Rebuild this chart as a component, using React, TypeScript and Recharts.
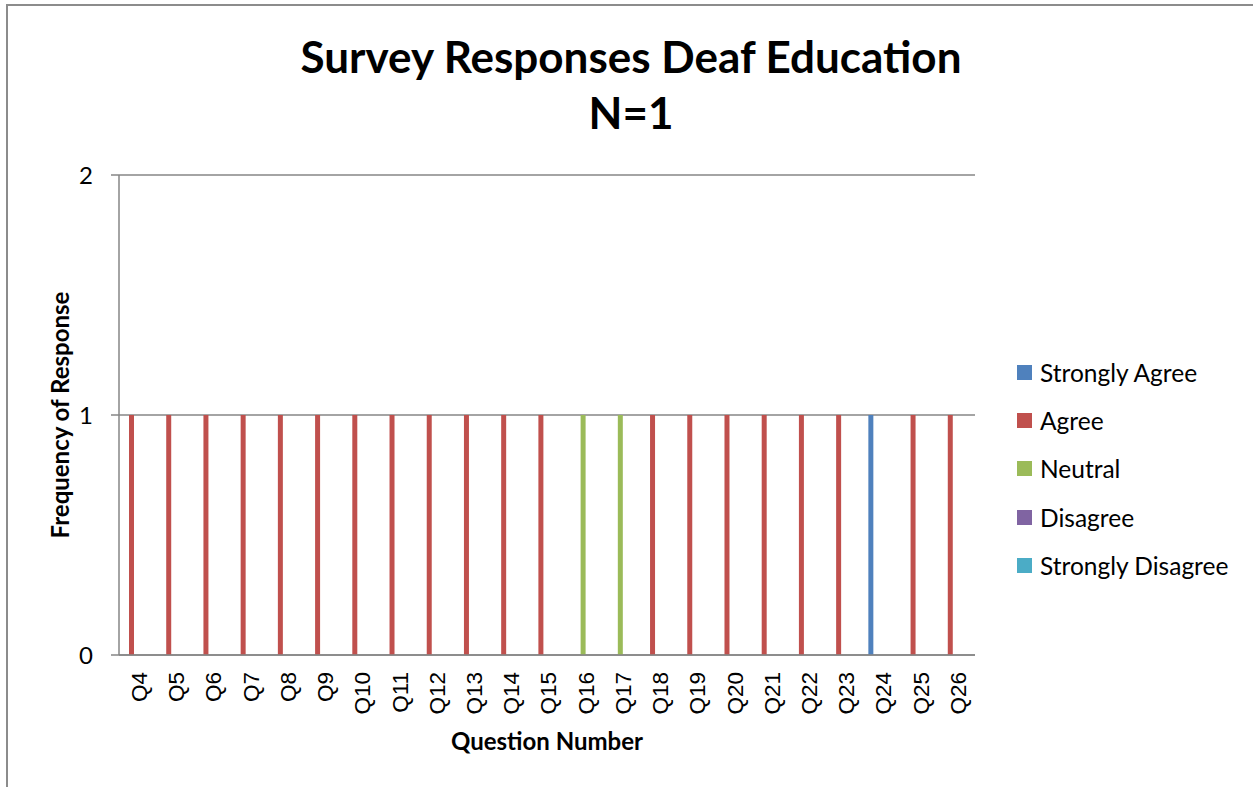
import React from "react";
import { BarChart, Bar, XAxis, YAxis, CartesianGrid } from "recharts";

// Survey responses per question (N=1)
const questions = [
  "Q4", "Q5", "Q6", "Q7", "Q8", "Q9", "Q10", "Q11", "Q12", "Q13", "Q14", "Q15",
  "Q16", "Q17", "Q18", "Q19", "Q20", "Q21", "Q22", "Q23", "Q24", "Q25", "Q26",
];
const stronglyAgree = [0, 0, 0, 0, 0, 0, 0, 0, 0, 0, 0, 0, 0, 0, 0, 0, 0, 0, 0, 0, 1, 0, 0];
const agree = [1, 1, 1, 1, 1, 1, 1, 1, 1, 1, 1, 1, 0, 0, 1, 1, 1, 1, 1, 1, 0, 1, 1];
const neutral = [0, 0, 0, 0, 0, 0, 0, 0, 0, 0, 0, 0, 1, 1, 0, 0, 0, 0, 0, 0, 0, 0, 0];
const disagree = [0, 0, 0, 0, 0, 0, 0, 0, 0, 0, 0, 0, 0, 0, 0, 0, 0, 0, 0, 0, 0, 0, 0];
const stronglyDisagree = [0, 0, 0, 0, 0, 0, 0, 0, 0, 0, 0, 0, 0, 0, 0, 0, 0, 0, 0, 0, 0, 0, 0];
const yTicks = [0, 1, 2];

const series = [
  { key: "sa", name: "Strongly Agree", color: "#4F81BD" },
  { key: "a", name: "Agree", color: "#C0504D" },
  { key: "n", name: "Neutral", color: "#9BBB59" },
  { key: "d", name: "Disagree", color: "#8064A2" },
  { key: "sd", name: "Strongly Disagree", color: "#4BACC6" },
];

const data = questions.map((q, i) => ({
  q,
  sa: stronglyAgree[i],
  a: agree[i],
  n: neutral[i],
  d: disagree[i],
  sd: stronglyDisagree[i],
}));

const AXIS = "#868686";
const FONT = "Lato, 'Open Sans', sans-serif";

const QuestionTick = (props: any) => {
  const { x, y, payload } = props;
  return (
    <g transform={`translate(${x},${y + 9}) rotate(-90)`}>
      <text
        x={0}
        y={0}
        dy="0.42em"
        textAnchor="end"
        fontFamily="'Liberation Sans', Arial, sans-serif"
        fontSize={22.5}
        fill="#000"
      >
        {payload.value}
      </text>
    </g>
  );
};

export default function App() {
  return (
    <div
      style={{
        position: "absolute",
        left: 0,
        top: 0,
        width: 1253,
        height: 787,
        overflow: "hidden",
        background: "#fff",
      }}
    >
      <div
        style={{
          position: "absolute",
          left: 6,
          top: 4,
          width: 1400,
          height: 900,
          borderTop: "2px solid #8c8c8c",
          borderLeft: "2px solid #8c8c8c",
        }}
      />
      <div
        style={{
          position: "absolute",
          left: 0,
          width: 1262,
          top: 28,
          textAlign: "center",
          fontFamily: FONT,
          fontWeight: "bold",
          fontSize: 44,
          lineHeight: "56px",
          color: "#000",
        }}
      >
        Survey Responses Deaf Education
        <br />
        N=1
      </div>
      <div style={{ position: "absolute", left: 0, top: 0 }}>
        <BarChart
          width={1253}
          height={787}
          data={data}
          margin={{ top: 175, right: 278, bottom: 42, left: 59 }}
          barCategoryGap={5}
          barGap={0}
        >
          <CartesianGrid vertical={false} stroke={AXIS} strokeWidth={1.5} />
          <XAxis
            dataKey="q"
            height={90}
            interval={0}
            tickLine={false}
            axisLine={{ stroke: AXIS, strokeWidth: 1.5 }}
            tick={<QuestionTick />}
          />
          <YAxis
            width={60}
            domain={[0, 2]}
            ticks={yTicks}
            tickSize={8}
            tickMargin={18}
            axisLine={{ stroke: AXIS, strokeWidth: 1.5 }}
            tickLine={{ stroke: AXIS, strokeWidth: 1.5 }}
            tick={{ fontFamily: FONT, fontSize: 24, fill: "#000" }}
          />
          {series.map((s) => (
            <Bar
              key={s.key}
              dataKey={s.key}
              name={s.name}
              fill={s.color}
              isAnimationActive={false}
            />
          ))}
        </BarChart>
      </div>
      <div
        style={{
          position: "absolute",
          left: 1017,
          top: 348,
          fontFamily: FONT,
          fontSize: 24.5,
          color: "#000",
        }}
      >
        {series.map((s) => (
          <div
            key={s.key}
            style={{ display: "flex", alignItems: "center", height: 48.3, whiteSpace: "nowrap" }}
          >
            <span
              style={{
                display: "inline-block",
                width: 15,
                height: 15,
                background: s.color,
                marginRight: 8,
              }}
            />
            <span>{s.name}</span>
          </div>
        ))}
      </div>
      <div
        style={{
          position: "absolute",
          left: 347,
          width: 400,
          top: 726,
          textAlign: "center",
          fontFamily: FONT,
          fontWeight: "bold",
          fontSize: 24,
          color: "#000",
        }}
      >
        Question Number
      </div>
      <div
        style={{
          position: "absolute",
          left: 60 - 200,
          width: 400,
          top: 415 - 16,
          textAlign: "center",
          fontFamily: FONT,
          fontWeight: "bold",
          fontSize: 24,
          lineHeight: "32px",
          color: "#000",
          transform: "rotate(-90deg)",
        }}
      >
        Frequency of Response
      </div>
    </div>
  );
}
